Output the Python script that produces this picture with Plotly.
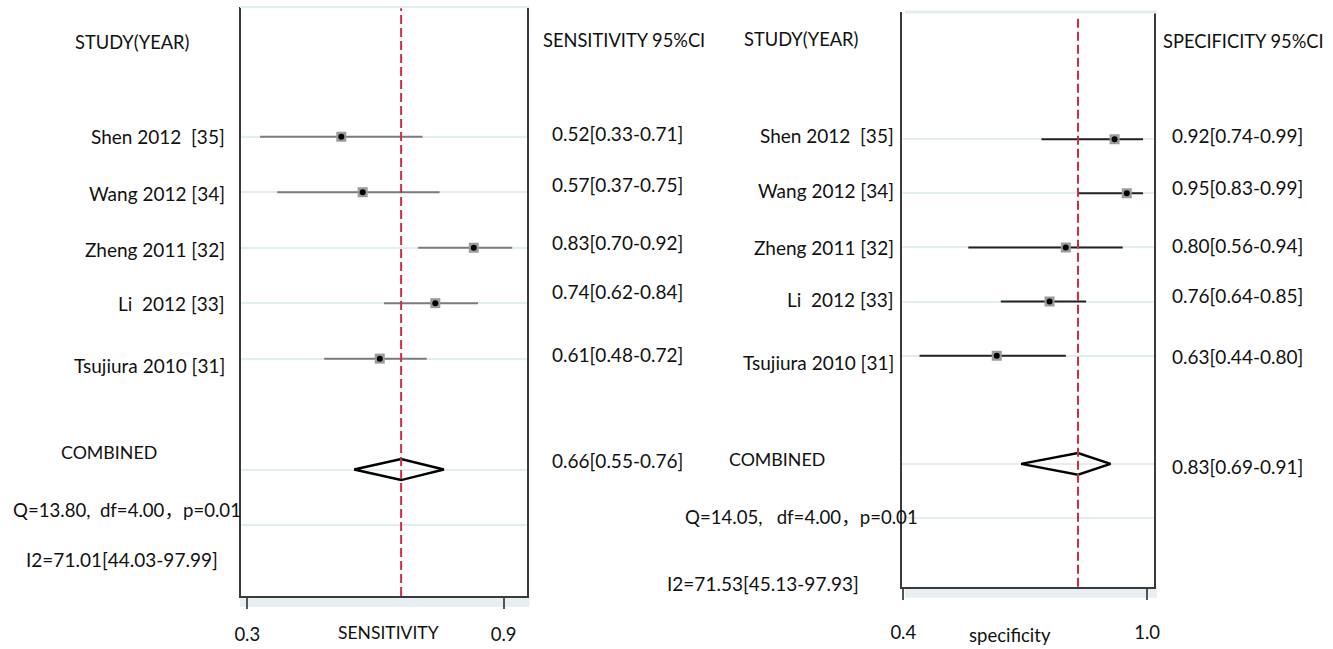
import plotly.graph_objects as go

# ---------------- data ----------------
studies = ["Shen 2012  [35]", "Wang 2012 [34]", "Zheng 2011 [32]", "Li  2012 [33]", "Tsujiura 2010 [31]"]
study_rows = [1, 2, 3, 4, 5]
combined_row = 7
extra_grid_row = 8

sens = [0.52, 0.57, 0.83, 0.74, 0.61]
sens_lo = [0.33, 0.37, 0.70, 0.62, 0.48]
sens_hi = [0.71, 0.75, 0.92, 0.84, 0.72]
sens_comb = 0.66
sens_comb_lo = 0.55
sens_comb_hi = 0.76
sens_q = "Q=13.80,  df=4.00，p=0.01"
sens_i2 = "I2=71.01[44.03-97.99]"

spec = [0.92, 0.95, 0.80, 0.76, 0.63]
spec_lo = [0.74, 0.83, 0.56, 0.64, 0.44]
spec_hi = [0.99, 0.99, 0.94, 0.85, 0.80]
spec_comb = 0.83
spec_comb_lo = 0.69
spec_comb_hi = 0.91
spec_q = "Q=14.05,   df=4.00，p=0.01"
spec_i2 = "I2=71.53[45.13-97.93]"

sens_ticks = [0.3, 0.9]
sens_ticktext = ["0.3", "0.9"]
spec_ticks = [0.4, 1.0]
spec_ticktext = ["0.4", "1.0"]

# ---------------- layout helpers ----------------
W, H = 1333, 649
X_OFF, X_SPAN = 14.0, 1314.0   # horizontal calibration of the rendered page
FONT = "Lato, 'Noto Sans CJK SC'"
FS_NUM = 19
FS_CAP = 18.3


def px(x):
    return max(0.0, (x - X_OFF) / X_SPAN)


def py(y):
    return 1 - y / H


fig = go.Figure()


def add_panel(est, lo, hi, c, clo, chi, xa, ya, ci_color, dh):
    xs, ys = [], []
    for l, h, r in zip(lo, hi, study_rows):
        xs += [l, h, None]
        ys += [r, r, None]
    fig.add_trace(go.Scatter(x=xs, y=ys, mode="lines", line=dict(color=ci_color, width=2),
                             xaxis=xa, yaxis=ya, hoverinfo="skip", showlegend=False))
    fig.add_trace(go.Scatter(x=est, y=study_rows, mode="markers",
                             marker=dict(symbol="square", size=10, color="#9b9b9b"),
                             xaxis=xa, yaxis=ya, showlegend=False))
    fig.add_trace(go.Scatter(x=est, y=study_rows, mode="markers",
                             marker=dict(symbol="circle", size=6, color="black"),
                             xaxis=xa, yaxis=ya, showlegend=False))
    fig.add_trace(go.Scatter(x=[clo, c, chi, c, clo],
                             y=[combined_row, combined_row - dh, combined_row, combined_row + dh, combined_row],
                             mode="lines", line=dict(color="black", width=2.5),
                             xaxis=xa, yaxis=ya, showlegend=False))


add_panel(sens, sens_lo, sens_hi, sens_comb, sens_comb_lo, sens_comb_hi, "x", "y", "#7c7c7c", 0.19)
add_panel(spec, spec_lo, spec_hi, spec_comb, spec_comb_lo, spec_comb_hi, "x2", "y2", "#222222", 0.20)

grid_rows = study_rows + [combined_row, extra_grid_row]

common_x = dict(showgrid=False, zeroline=False, showline=True, linecolor="#3a3a3a", linewidth=2,
                ticks="outside", ticklen=11, tickwidth=2, tickcolor="#555555",
                tickfont=dict(family=FONT, size=18.5, color="#111"),
                fixedrange=True)
common_y = dict(showgrid=True, gridcolor="#e3eef0", gridwidth=2, zeroline=False, showline=True,
                mirror=True, linecolor="#3a3a3a", linewidth=2, tickvals=grid_rows,
                showticklabels=False, ticks="", fixedrange=True)

fig.update_layout(
    width=W, height=H, autosize=False, margin=dict(l=0, r=0, t=0, b=0, pad=0),
    paper_bgcolor="white", plot_bgcolor="white", showlegend=False,
    font=dict(family=FONT, size=FS_NUM, color="#111"),
    xaxis=dict(domain=[px(243), px(529)], range=[0.2857, 0.9555], anchor="y",
               tickvals=sens_ticks, ticktext=sens_ticktext, ticklabelstandoff=10, **common_x),
    yaxis=dict(domain=[py(596), py(7)], range=[9.28, -1.34], anchor="x", **common_y),
    xaxis2=dict(domain=[px(903.8), px(1155)], range=[0.398, 1.0167], anchor="y2",
                tickvals=spec_ticks, ticktext=spec_ticktext, ticklabelstandoff=17, **common_x),
    yaxis2=dict(domain=[py(586.7), py(12)], range=[9.27, -1.35], anchor="x2", **common_y),
)

shapes = []
shapes.append(dict(type="rect", xref="x domain", yref="y domain", x0=-0.004, x1=1.007,
                   y0=-11 / 589, y1=0, fillcolor="#e7eff2", line=dict(width=0), layer="below"))
shapes.append(dict(type="rect", xref="x2 domain", yref="y2 domain", x0=0.01, x1=1.012,
                   y0=-11 / 575, y1=0, fillcolor="#e7eff2", line=dict(width=0), layer="below"))
shapes.append(dict(type="line", xref="x domain", yref="y domain", x0=-0.004, x1=1.007, y0=1, y1=1,
                   line=dict(color="#e3eef0", width=2)))
shapes.append(dict(type="line", xref="x2 domain", yref="y2 domain", x0=0.01, x1=1.012, y0=1, y1=1,
                   line=dict(color="#e3eef0", width=3)))
shapes.append(dict(type="line", xref="x", yref="y domain", x0=sens_comb, x1=sens_comb, y0=0, y1=0.998,
                   line=dict(color="#d42a4a", width=2, dash="9px,4px")))
shapes.append(dict(type="line", xref="x2", yref="y2 domain", x0=spec_comb, x1=spec_comb, y0=0, y1=0.995,
                   line=dict(color="#d42a4a", width=2, dash="9px,4px")))
fig.update_layout(shapes=shapes)

ann = []


def text(t, x, y, anchor="left", size=FS_NUM):
    ann.append(dict(text=t, x=px(x), y=py(y), xref="paper", yref="paper", xanchor=anchor,
                    yanchor="middle", showarrow=False, borderpad=0,
                    font=dict(family=FONT, size=size, color="#111")))


def fmt(e, l, h):
    return f"{e:.2f}[{l:.2f}-{h:.2f}]"


# left panel texts
text("STUDY(YEAR)", 76, 42, size=FS_CAP)
for s, y in zip(studies, [137, 193, 250, 303, 365]):
    text(s, 228, y, "right")
text("SENSITIVITY 95%CI", 544, 40, size=FS_CAP)
for e, l, h, y in zip(sens, sens_lo, sens_hi, [134, 184, 243, 291, 354]):
    text(fmt(e, l, h), 553, y)
text(fmt(sens_comb, sens_comb_lo, sens_comb_hi), 553, 460)
text("COMBINED", 62, 452, size=17.8)
text(sens_q, 10, 510, size=18.6)
text(sens_i2, 27, 559)
text("SENSITIVITY", 390, 632, "center", 17.5)

# right panel texts
text("STUDY(YEAR)", 744, 39, size=FS_CAP)
for s, y in zip(studies, [135, 190, 247, 299, 362]):
    text(s, 896, y, "right")
text("SPECIFICITY 95%CI", 1163, 41, size=FS_CAP)
for e, l, h, y in zip(spec, spec_lo, spec_hi, [135, 187, 245, 295, 356]):
    text(fmt(e, l, h), 1172, y)
text(fmt(spec_comb, spec_comb_lo, spec_comb_hi), 1172, 466)
text("COMBINED", 729, 459, size=17.8)
text(spec_q, 685, 517, size=18.6)
text(spec_i2, 668, 583)
text("specificity", 1011, 635, "center", 18.5)

fig.update_layout(annotations=ann)

fig.write_html("out.html",
               config={"responsive": False, "displayModeBar": False},
               post_script="document.documentElement.style.margin='0px';"
                           "document.body.style.margin='0px';document.body.style.padding='0px';"
                           "document.body.style.overflow='hidden';")
